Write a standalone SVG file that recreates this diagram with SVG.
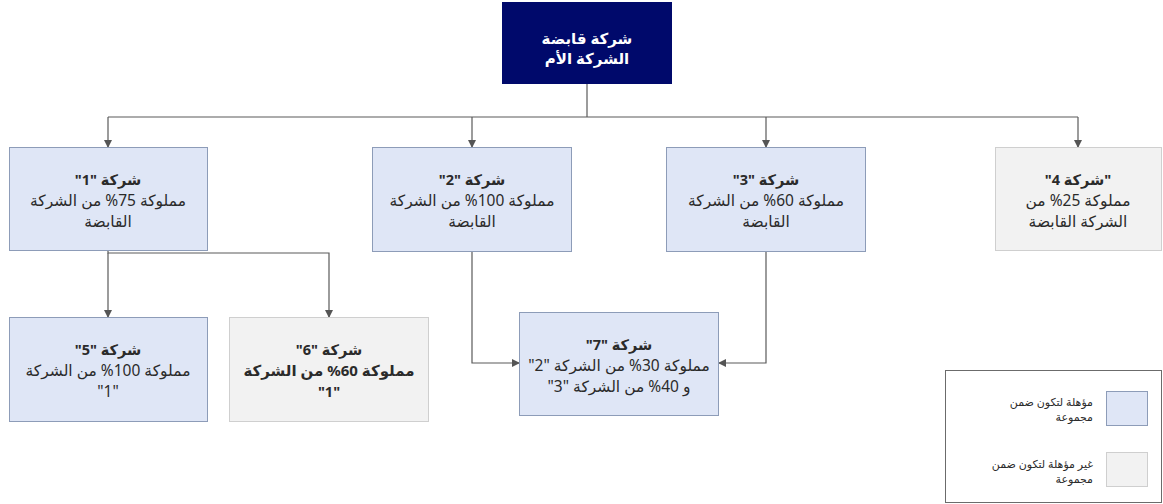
<svg xmlns="http://www.w3.org/2000/svg" width="1163" height="504" viewBox="0 0 1163 504">
<defs>
<marker id="arr" markerWidth="8" markerHeight="8" refX="7" refY="4" orient="auto" markerUnits="userSpaceOnUse">
<path d="M0,0 L8,4 L0,8 Z" fill="#555555"/>
</marker>
<style>
.t{font-family:"Noto Sans","DejaVu Sans",sans-serif;font-size:15.5px;fill:#2b2b2b;text-anchor:middle;direction:rtl}
.b{font-weight:bold;font-size:14.5px}
.w{fill:#ffffff;font-size:15px;font-weight:bold}
.blue{fill:#dfe6f6;stroke:#8d9cb8;stroke-width:1}
.gray{fill:#f2f2f2;stroke:#cfcfcf;stroke-width:1}
.ln{fill:none;stroke:#5a5a5a;stroke-width:1.2}
.lg{font-family:"Noto Sans","DejaVu Sans",sans-serif;font-size:11px;fill:#2b2b2b;text-anchor:start;direction:rtl}
</style>
</defs>
<rect width="1163" height="504" fill="#ffffff"/>
<g id="connectors">
<path class="ln" d="M587,84 V117"/>
<path class="ln" d="M108,117 H1078"/>
<path class="ln" d="M108,117 V147" marker-end="url(#arr)"/>
<path class="ln" d="M472,117 V147" marker-end="url(#arr)"/>
<path class="ln" d="M766,117 V147" marker-end="url(#arr)"/>
<path class="ln" d="M1078,117 V147" marker-end="url(#arr)"/>
<path class="ln" d="M108,251 V253 H329 V317" marker-end="url(#arr)"/>
<path class="ln" d="M108,253 V317" marker-end="url(#arr)"/>
<path class="ln" d="M472,252 V363 H519" marker-end="url(#arr)"/>
<path class="ln" d="M766,252 V363 H719" marker-end="url(#arr)"/>
</g>
<g id="holding">
<rect x="502" y="2" width="170" height="82" fill="#00096b"/>
<text class="t w" x="587" y="44" direction="rtl">شركة قابضة</text>
<text class="t w" x="587" y="64" direction="rtl">الشركة الأم</text>
</g>
<g id="company1">
<rect class="blue" x="9.5" y="147.5" width="198" height="103"/>
<text class="t b" x="108" y="185" direction="rtl">شركة "1"</text>
<text class="t" x="108" y="206" direction="rtl">مملوكة 75% من الشركة</text>
<text class="t" x="108" y="227" direction="rtl">القابضة</text>
</g>
<g id="company2">
<rect class="blue" x="372.5" y="147.5" width="199" height="104"/>
<text class="t b" x="472" y="185" direction="rtl">شركة "2"</text>
<text class="t" x="472" y="206" direction="rtl">مملوكة 100% من الشركة</text>
<text class="t" x="472" y="227" direction="rtl">القابضة</text>
</g>
<g id="company3">
<rect class="blue" x="666.5" y="147.5" width="199" height="104"/>
<text class="t b" x="766" y="185" direction="rtl">شركة "3"</text>
<text class="t" x="766" y="206" direction="rtl">مملوكة 60% من الشركة</text>
<text class="t" x="766" y="227" direction="rtl">القابضة</text>
</g>
<g id="company4">
<rect class="gray" x="995.5" y="147.5" width="166" height="103"/>
<text class="t b" x="1078" y="185" direction="rtl">"شركة 4"</text>
<text class="t" x="1078" y="206" direction="rtl">مملوكة 25% من</text>
<text class="t" x="1078" y="227" direction="rtl">الشركة القابضة</text>
</g>
<g id="company5">
<rect class="blue" x="9.5" y="317.5" width="198" height="104"/>
<text class="t b" x="108" y="355" direction="rtl">شركة "5"</text>
<text class="t" x="108" y="376" direction="rtl">مملوكة 100% من الشركة</text>
<text class="t" x="108" y="397" direction="rtl">"1"</text>
</g>
<g id="company6">
<rect class="gray" x="229.5" y="317.5" width="199" height="104"/>
<text class="t b" x="329" y="355" direction="rtl">شركة "6"</text>
<text class="t b" x="329" y="376" direction="rtl" style="font-size:15px">مملوكة 60% من الشركة</text>
<text class="t b" x="329" y="397" direction="rtl">"1"</text>
</g>
<g id="company7">
<rect class="blue" x="519.5" y="312.5" width="199" height="103"/>
<text class="t b" x="619" y="350" direction="rtl">شركة "7"</text>
<text class="t" x="619" y="371" direction="rtl">مملوكة 30% من الشركة "2"</text>
<text class="t" x="619" y="392" direction="rtl">و 40% من الشركة "3"</text>
</g>
<g id="legend">
<rect x="945.5" y="370.5" width="216" height="132" fill="#ffffff" stroke="#6b6b6b" stroke-width="1"/>
<rect class="blue" x="1106.5" y="391.5" width="41" height="34"/>
<rect class="gray" x="1106.5" y="452.5" width="41" height="34"/>
<text class="lg" x="1093" y="406" direction="rtl">مؤهلة لتكون ضمن</text>
<text class="lg" x="1093" y="421" direction="rtl">مجموعة</text>
<text class="lg" x="1093" y="468" direction="rtl">غير مؤهلة لتكون ضمن</text>
<text class="lg" x="1093" y="483" direction="rtl">مجموعة</text>
</g>
</svg>
